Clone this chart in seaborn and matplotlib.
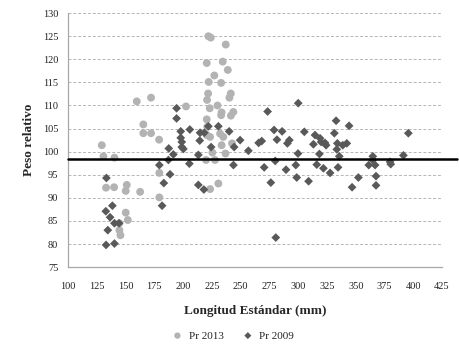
import numpy as np
import pandas as pd
import matplotlib
matplotlib.use("Agg")
import matplotlib.pyplot as plt
import seaborn as sns

# Pr 2013 (circulos gris claro)
ls_2013 = [129.3, 130.7, 140.3, 133.0, 140.0, 151.0, 150.1, 162.6, 150.1, 151.9,
           144.6, 144.6, 145.5, 159.7, 172.1, 165.4, 165.4, 172.1, 179.1, 179.3,
           179.3, 202.5, 221.9, 224.0, 237.0, 220.5, 234.4, 238.8, 227.1, 222.2,
           233.0, 221.7, 241.4, 240.2, 220.8, 223.1, 229.8, 233.4, 233.0, 243.6,
           241.5, 220.5, 221.0, 220.5, 223.4, 232.1, 234.9, 233.4, 242.5, 236.8,
           225.4, 227.7, 219.9, 230.6, 223.4]
pr_2013 = [101.4, 99.0, 98.7, 92.2, 92.3, 92.8, 91.5, 91.3, 86.8, 85.2,
           84.5, 83.0, 81.9, 110.9, 111.7, 105.9, 104.0, 104.0, 102.6, 95.4,
           90.1, 109.8, 125.0, 124.7, 123.2, 119.2, 119.5, 117.7, 116.5, 115.1,
           114.9, 112.6, 112.6, 111.7, 111.2, 109.4, 110.0, 108.5, 107.9, 108.6,
           107.8, 107.0, 105.4, 103.6, 103.2, 103.9, 103.2, 101.4, 101.8, 99.6,
           99.8, 98.2, 98.2, 93.1, 91.9]

# Pr 2009 (rombos gris oscuro)
ls_2009 = [133.3, 132.8, 138.5, 136.5, 140.3, 144.3, 134.5, 133.0, 140.3, 179.3,
           188.6, 183.2, 181.7, 187.5, 191.5, 187.2, 194.3, 194.3, 197.9, 205.8,
           197.9, 198.8, 198.8, 200.2, 205.4, 213.2, 213.2, 218.0, 214.7, 218.4,
           221.9, 230.6, 240.0, 214.4, 224.3, 249.5, 244.3, 243.7, 256.7, 265.6,
           268.3, 270.4, 273.4, 279.0, 281.5, 286.0, 292.3, 290.6, 280.0, 276.2,
           280.5, 289.4, 300.0, 305.3, 299.8, 297.9, 298.7, 309.0, 314.6, 313.2,
           319.0, 319.9, 323.3, 324.2, 318.4, 316.1, 321.9, 327.7, 332.9, 331.4,
           334.0, 333.5, 335.7, 338.7, 342.2, 334.6, 344.2, 346.8, 352.3, 361.3,
           364.8, 364.8, 366.8, 367.6, 367.6, 379.8, 380.4, 391.4, 395.7]
pr_2009 = [94.3, 87.1, 88.3, 85.8, 84.5, 84.5, 83.0, 79.8, 80.1, 97.1,
           95.1, 93.2, 88.3, 100.7, 99.4, 98.2, 109.4, 107.2, 104.4, 104.8,
           103.0, 102.1, 101.0, 100.6, 97.4, 99.3, 92.8, 91.8, 104.1, 104.1,
           105.5, 105.5, 104.4, 102.4, 101.0, 102.5, 101.0, 97.1, 100.2, 101.9,
           102.3, 96.6, 108.7, 104.7, 102.6, 104.4, 102.5, 101.8, 98.0, 93.3,
           81.4, 96.1, 110.5, 104.3, 99.6, 97.1, 94.4, 93.6, 103.6, 101.6,
           102.9, 102.1, 101.9, 101.4, 99.5, 97.2, 96.4, 95.4, 106.7, 104.0,
           101.8, 100.5, 99.0, 101.4, 101.8, 96.6, 105.6, 92.3, 94.4, 97.1,
           99.0, 98.2, 97.1, 94.7, 92.7, 97.8, 97.3, 99.2, 104.0]

ref_line = 98.5
x_ticks = list(range(100, 426, 25))
y_ticks = list(range(75, 131, 5))

df13 = pd.DataFrame({"ls": ls_2013, "pr": pr_2013})
df09 = pd.DataFrame({"ls": ls_2009, "pr": pr_2009})

sns.set_style("white")
plt.rcParams["font.family"] = ["Liberation Serif", "DejaVu Serif"]

fig = plt.figure(figsize=(4.6, 3.46), dpi=100)
ax = fig.add_axes([0.148, 0.228, 0.813, 0.734])

sns.scatterplot(data=df13, x="ls", y="pr", marker="o", s=32, color="#b3b3b3",
                edgecolor="none", label="Pr 2013", ax=ax, zorder=3)
sns.scatterplot(data=df09, x="ls", y="pr", marker="D", s=20, color="#595959",
                edgecolor="none", label="Pr 2009", ax=ax, zorder=3)

# linea de referencia
ax.plot([100, 438], [ref_line, ref_line], color="black", lw=1.8, clip_on=False, zorder=4)

ax.set_xlim(100, 425)
ax.set_ylim(75, 130)
ax.set_xticks(x_ticks)
ax.set_yticks(y_ticks)
ax.tick_params(labelsize=7.5, length=3, color="#a0a0a0", pad=8, labelcolor="#222222")
ax.tick_params(axis="y", pad=4)
ax.yaxis.grid(True, linestyle=(0, (3, 2)), color="#b5b5b5", lw=0.7)
for side in ["top", "right"]:
    ax.spines[side].set_visible(False)
for side in ["left", "bottom"]:
    ax.spines[side].set_color("#a8a8a8")
    ax.spines[side].set_linewidth(0.9)

ax.set_xlabel("Longitud Estándar (mm)", fontsize=9.5, fontweight="bold", labelpad=10)
ax.set_ylabel("Peso relativo", fontsize=9.5, fontweight="bold", labelpad=6)

ax.legend_.remove()
h, l = ax.get_legend_handles_labels()
fig.legend(h[:2], l[:2], loc="center", bbox_to_anchor=(0.5, 0.03), ncol=2,
           frameon=False, fontsize=8, handletextpad=0.0, columnspacing=1.2,
           markerscale=0.8)

fig.savefig("out.png", dpi=100)
